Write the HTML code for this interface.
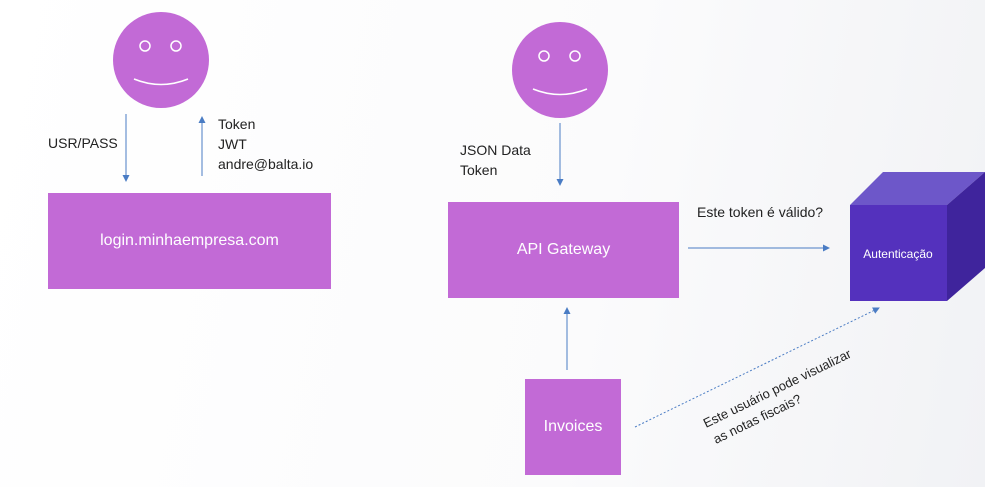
<!DOCTYPE html>
<html><head><style>
body{margin:0;width:985px;height:487px;overflow:hidden;background:linear-gradient(100deg,#ffffff 0%,#fbfbfc 60%,#f1f2f5 100%);font-family:"Liberation Sans",sans-serif;}
.t{position:absolute;font-size:14px;color:#222;line-height:20px}
.b{position:absolute;background:#c26ad6;color:#fff;display:flex;align-items:center;justify-content:center;font-size:16px}
</style></head><body>
<svg width="985" height="487" style="position:absolute;left:0;top:0">
<defs><marker id="a" markerWidth="8" markerHeight="8" refX="6" refY="4" orient="auto"><path d="M0,0.5 L7,4 L0,7.5z" fill="#4a7cc4"/></marker></defs>
<circle cx="161" cy="60" r="48" fill="#c26ad6"/>
<circle cx="145" cy="46" r="5" fill="none" stroke="#fff" stroke-width="1.5"/>
<circle cx="176" cy="46" r="5" fill="none" stroke="#fff" stroke-width="1.5"/>
<path d="M134,79 Q161,90 188,79" fill="none" stroke="#fff" stroke-width="1.5"/>
<circle cx="560" cy="70" r="48" fill="#c26ad6"/>
<circle cx="544" cy="56" r="5" fill="none" stroke="#fff" stroke-width="1.5"/>
<circle cx="575" cy="56" r="5" fill="none" stroke="#fff" stroke-width="1.5"/>
<path d="M533,89 Q560,100 587,89" fill="none" stroke="#fff" stroke-width="1.5"/>
<g stroke="#4a7cc4" stroke-width="1" marker-end="url(#a)" fill="none">
<line x1="126" y1="114" x2="126" y2="181"/>
<line x1="202" y1="176" x2="202" y2="117"/>
<line x1="560" y1="123" x2="560" y2="185"/>
<line x1="688" y1="248" x2="829" y2="248"/>
<line x1="567" y1="370" x2="567" y2="308"/>
<line x1="635" y1="427" x2="879" y2="308" stroke-dasharray="2,2"/>
</g>
<polygon points="850,205 883,172 985,172 947,205" fill="#6d57c9"/>
<polygon points="947,205 985,172 985,268 947,301" fill="#3f249c"/>
<rect x="850" y="205" width="97" height="96" fill="#5431bd"/>
<text x="898" y="258" fill="#fff" font-size="12" text-anchor="middle" font-family="Liberation Sans">Autenticação</text>
<text transform="translate(706,428) rotate(-26)" font-size="13" fill="#222" font-family="Liberation Sans">Este usuário pode visualizar</text>
<text transform="translate(716,444) rotate(-26)" font-size="13" fill="#222" font-family="Liberation Sans">as notas fiscais?</text>
</svg>
<div class="t" style="left:48px;top:133px">USR/PASS</div>
<div class="t" style="left:218px;top:114px">Token<br>JWT<br>andre@balta.io</div>
<div class="t" style="left:460px;top:140px">JSON Data<br>Token</div>
<div class="t" style="left:697px;top:202px">Este token é válido?</div>
<div class="b" style="left:48px;top:193px;width:283px;height:96px">login.minhaempresa.com</div>
<div class="b" style="left:448px;top:202px;width:231px;height:96px">API Gateway</div>
<div class="b" style="left:525px;top:379px;width:96px;height:96px">Invoices</div>
</body></html>
